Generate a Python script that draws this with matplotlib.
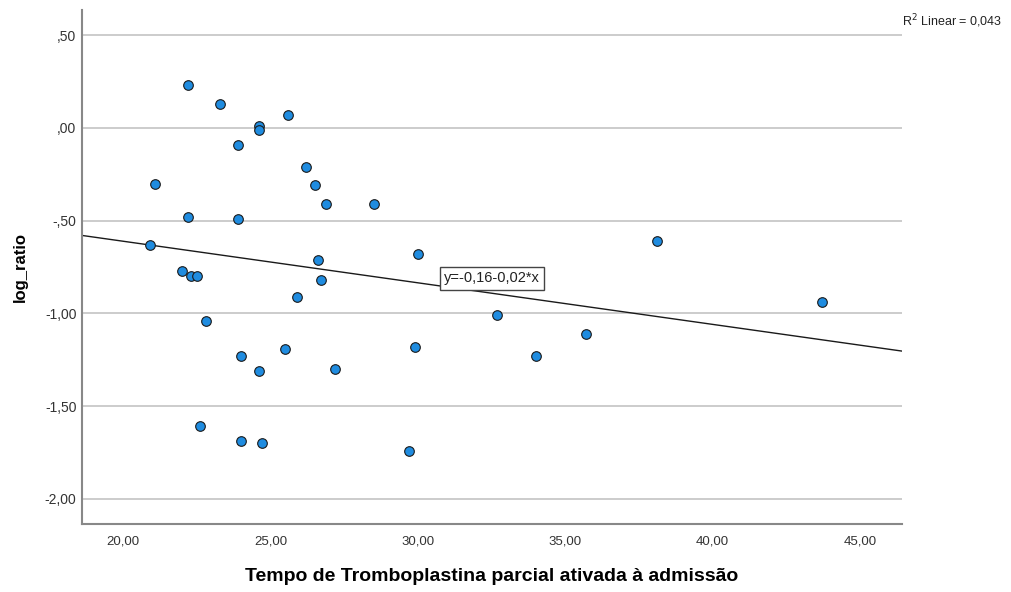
import numpy as np
import matplotlib.pyplot as plt
from matplotlib.ticker import FuncFormatter

plt.rcParams['font.family'] = ['Liberation Sans', 'DejaVu Sans']

# TTPa at admission (s) and log_ratio, one pair per patient
ttpa = [22.2, 23.3, 24.6, 24.6, 25.6, 23.9, 21.1, 26.2, 26.5, 26.9,
        28.5, 22.2, 23.9, 20.9, 30.0, 38.1, 26.6, 22.0, 22.3, 22.5,
        26.7, 25.9, 32.7, 43.7, 35.7, 22.8, 24.0, 25.5, 29.9, 34.0,
        24.6, 27.2, 22.6, 24.0, 24.7, 29.7]
log_ratio = [0.23, 0.13, 0.01, -0.01, 0.07, -0.09, -0.30, -0.21, -0.31, -0.41,
             -0.41, -0.48, -0.49, -0.63, -0.68, -0.61, -0.71, -0.77, -0.80, -0.80,
             -0.82, -0.91, -1.01, -0.94, -1.11, -1.04, -1.23, -1.19, -1.18, -1.23,
             -1.31, -1.30, -1.61, -1.69, -1.70, -1.74]

x_ticks = [20, 25, 30, 35, 40, 45]
y_ticks = [0.5, 0.0, -0.5, -1.0, -1.5, -2.0]


def spss_fmt(v, _pos=None):
    # SPSS style: comma decimal, no leading zero
    s = f"{v:.2f}".replace('.', ',')
    if s.startswith('0,'):
        s = s[1:]
    elif s.startswith('-0,'):
        s = '-' + s[2:]
    return s


x = np.array(ttpa)
y = np.array(log_ratio)
slope, intercept = np.polyfit(x, y, 1)
r2 = np.corrcoef(x, y)[0, 1] ** 2

fig = plt.figure(figsize=(10.11, 5.92), dpi=100)
ax = fig.add_axes([0.0811, 0.1149, 0.8111, 0.8682])

xmin, xmax = 18.61, 46.42
ax.set_xlim(xmin, xmax)
ax.set_ylim(-2.136, 0.636)

for yt in y_ticks:
    ax.axhline(yt, color='#c8c8c8', lw=1.3, zorder=1)

xs = np.array([xmin, xmax])
ax.plot(xs, intercept + slope * xs, color='#1a1a1a', lw=1.0, zorder=2)

ax.scatter(x, y, s=48, color='#1f8ce0', edgecolors='#1a1a1a', linewidths=0.8, zorder=3)

eq = f"y={intercept:.2f}{slope:+.2f}*x".replace('.', ',')
ax.text(32.52, -0.812, eq, ha='center', va='center', fontsize=10.5, color='#222222',
        bbox=dict(boxstyle='square,pad=0.3', fc='white', ec='#444444', lw=1.0), zorder=4)

fig.text(0.8925, 0.965, f"R$^2$ Linear = {r2:.3f}".replace('.', ','),
         fontsize=9, ha='left', va='center', color='#222222')

ax.set_xticks(x_ticks)
ax.set_yticks(y_ticks)
ax.xaxis.set_major_formatter(FuncFormatter(spss_fmt))
ax.yaxis.set_major_formatter(FuncFormatter(spss_fmt))
ax.tick_params(axis='x', length=0, labelsize=9.5, labelcolor='#333333', pad=8)
ax.tick_params(axis='y', length=0, labelsize=10, labelcolor='#333333', pad=4)

for side in ['top', 'right']:
    ax.spines[side].set_visible(False)
for side in ['left', 'bottom']:
    ax.spines[side].set_color('#888888')
    ax.spines[side].set_linewidth(1.5)

ax.set_xlabel("Tempo de Tromboplastina parcial ativada à admissão", fontsize=14,
              fontweight='bold', labelpad=15)
ax.set_ylabel("log_ratio", fontsize=12, fontweight='bold')
ax.yaxis.set_label_coords(-0.0756, 0.5)
ax.yaxis.label.set_va('center')

fig.savefig('out.png', dpi=100)
